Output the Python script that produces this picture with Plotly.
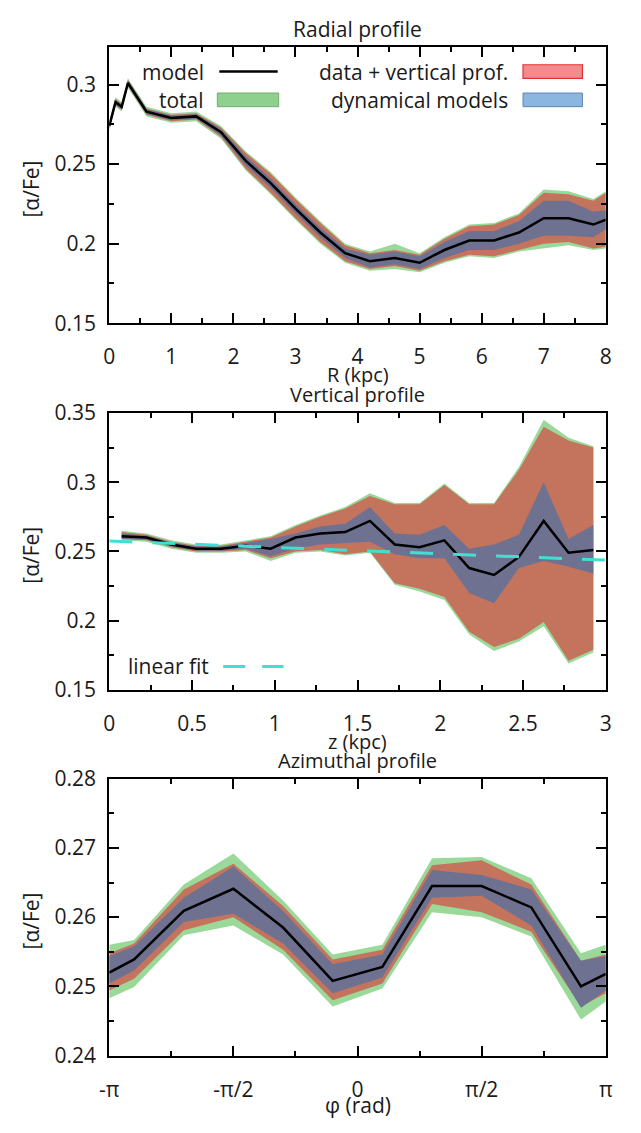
import numpy as np
import plotly.graph_objects as go

W, H = 641, 1133

# ---------------- Radial profile ----------------
R_kpc = [0.0, 0.1, 0.2, 0.3, 0.6, 1.0, 1.4, 1.8, 2.2, 2.6, 3.0, 3.4, 3.8, 4.2,
         4.6, 5.0, 5.4, 5.8, 6.2, 6.6, 7.0, 7.4, 7.8, 8.0]
rad_model = [0.274, 0.289, 0.286, 0.301, 0.283, 0.279, 0.280, 0.270, 0.252, 0.238,
             0.222, 0.207, 0.194, 0.189, 0.191, 0.188, 0.196, 0.202, 0.202, 0.207,
             0.216, 0.216, 0.212, 0.215]
rad_tot_hi = [0.277, 0.292, 0.289, 0.304, 0.286, 0.282, 0.283, 0.274, 0.258, 0.245,
              0.229, 0.214, 0.200, 0.195, 0.200, 0.194, 0.204, 0.212, 0.213, 0.219,
              0.234, 0.233, 0.228, 0.233]
rad_tot_lo = [0.271, 0.286, 0.283, 0.298, 0.280, 0.276, 0.277, 0.266, 0.246, 0.231,
              0.215, 0.200, 0.188, 0.183, 0.184, 0.182, 0.188, 0.192, 0.191, 0.195,
              0.197, 0.199, 0.196, 0.197]
rad_data_hi = [0.276, 0.291, 0.288, 0.303, 0.285, 0.281, 0.282, 0.273, 0.257, 0.244,
               0.228, 0.213, 0.199, 0.194, 0.196, 0.193, 0.203, 0.211, 0.212, 0.218,
               0.232, 0.231, 0.227, 0.232]
rad_data_lo = [0.272, 0.287, 0.284, 0.299, 0.281, 0.277, 0.278, 0.267, 0.247, 0.232,
               0.216, 0.201, 0.189, 0.184, 0.186, 0.183, 0.189, 0.193, 0.192, 0.196,
               0.200, 0.201, 0.197, 0.198]
rad_dyn_hi = [0.2755, 0.2905, 0.2875, 0.3025, 0.2845, 0.2805, 0.2815, 0.272, 0.255, 0.241,
              0.225, 0.210, 0.197, 0.193, 0.195, 0.192, 0.201, 0.208, 0.208, 0.214,
              0.227, 0.227, 0.220, 0.221]
rad_dyn_lo = [0.2725, 0.2875, 0.2845, 0.2995, 0.2815, 0.2775, 0.2785, 0.268, 0.249, 0.235,
              0.219, 0.204, 0.191, 0.185, 0.187, 0.184, 0.191, 0.196, 0.196, 0.200,
              0.205, 0.205, 0.204, 0.209]

# ---------------- Vertical profile ----------------
z_kpc = [0.075, 0.225, 0.375, 0.525, 0.675, 0.825, 0.975, 1.125, 1.275, 1.425,
         1.575, 1.725, 1.875, 2.025, 2.175, 2.325, 2.475, 2.625, 2.775, 2.925]
ver_model = [0.261, 0.260, 0.255, 0.252, 0.252, 0.254, 0.252, 0.260, 0.263, 0.264,
             0.272, 0.255, 0.253, 0.258, 0.238, 0.233, 0.246, 0.272, 0.249, 0.251]
ver_tot_hi = [0.265, 0.263, 0.258, 0.255, 0.255, 0.258, 0.261, 0.269, 0.276, 0.282,
              0.292, 0.285, 0.285, 0.299, 0.285, 0.285, 0.311, 0.345, 0.332, 0.326]
ver_tot_lo = [0.258, 0.257, 0.252, 0.249, 0.249, 0.250, 0.243, 0.249, 0.250, 0.247,
              0.249, 0.226, 0.221, 0.215, 0.190, 0.178, 0.185, 0.196, 0.169, 0.177]
ver_data_hi = [0.264, 0.262, 0.257, 0.254, 0.254, 0.257, 0.260, 0.268, 0.275, 0.281,
               0.290, 0.284, 0.284, 0.298, 0.284, 0.284, 0.309, 0.340, 0.330, 0.325]
ver_data_lo = [0.259, 0.258, 0.253, 0.250, 0.250, 0.251, 0.245, 0.250, 0.251, 0.248,
               0.250, 0.227, 0.223, 0.217, 0.192, 0.181, 0.187, 0.199, 0.171, 0.179]
ver_dyn_hi = [0.263, 0.2615, 0.2565, 0.2535, 0.2535, 0.256, 0.259, 0.263, 0.268, 0.270,
              0.282, 0.263, 0.262, 0.269, 0.252, 0.255, 0.262, 0.300, 0.259, 0.269]
ver_dyn_lo = [0.259, 0.2585, 0.2535, 0.2505, 0.2505, 0.252, 0.2465, 0.252, 0.255, 0.256,
              0.257, 0.248, 0.245, 0.245, 0.220, 0.2125, 0.238, 0.243, 0.239, 0.234]
fit_z = [0.0, 3.0]
fit_val = [0.2575, 0.2437]

# ---------------- Azimuthal profile ----------------
phi_over_pi = [-1.0, -0.9, -0.7, -0.5, -0.3, -0.1, 0.1, 0.3, 0.5, 0.7, 0.9, 1.0]
azi_model = [0.2520, 0.2539, 0.2609, 0.2641, 0.2585, 0.2508, 0.2528, 0.2645, 0.2645,
             0.2614, 0.2500, 0.2518]
azi_tot_hi = [0.2560, 0.2567, 0.2647, 0.2692, 0.2624, 0.2546, 0.2560, 0.2685, 0.2687,
              0.2656, 0.2548, 0.2560]
azi_tot_lo = [0.2483, 0.2499, 0.2574, 0.2588, 0.2546, 0.2471, 0.2497, 0.2607, 0.2600,
              0.2572, 0.2452, 0.2478]
azi_data_hi = [0.2548, 0.2562, 0.2640, 0.2677, 0.2616, 0.2539, 0.2553, 0.2675, 0.2682,
               0.2647, 0.2537, 0.2546]
azi_data_lo = [0.2494, 0.2511, 0.2581, 0.2600, 0.2553, 0.2480, 0.2504, 0.2619, 0.2607,
               0.2579, 0.2471, 0.2490]
azi_dyn_hi = [0.2544, 0.2558, 0.2628, 0.2673, 0.2609, 0.2532, 0.2546, 0.2668, 0.2661,
              0.2640, 0.2537, 0.2544]
azi_dyn_lo = [0.2504, 0.2523, 0.2593, 0.2605, 0.2562, 0.2490, 0.2513, 0.2628, 0.2631,
              0.2588, 0.2469, 0.2494]
phi_rad = [p * np.pi for p in phi_over_pi]
phi_ticks = [-np.pi, -np.pi / 2, 0.0, np.pi / 2, np.pi]
phi_ticktext = ["-π", "-π/2", "0", "π/2", "π"]

# colours of the bands as they appear stacked on the plot
C_TOT = "#9ad99a"
C_DATA = "#c4745c"
C_DYN = "#6f7191"
C_FIT = "#40e0d0"
TXT = "#1a1a1a"
FONT = "Open Sans"


def px_x(p):
    # page pixel -> paper fraction
    return p / W


def px_y(p):
    return 1 - p / H


fig = go.Figure()


def band(xs, hi, lo, color, ax):
    fig.add_trace(go.Scatter(
        x=list(xs) + list(xs)[::-1], y=list(hi) + list(lo)[::-1],
        fill="toself", fillcolor=color, mode="lines", line=dict(width=0),
        xaxis="x" + ax, yaxis="y" + ax, hoverinfo="skip", showlegend=False))


def model_line(xs, ys, ax):
    fig.add_trace(go.Scatter(
        x=xs, y=ys, mode="lines", line=dict(color="black", width=2.5),
        xaxis="x" + ax, yaxis="y" + ax, hoverinfo="skip", showlegend=False))


for ax, xs, m, th, tl, dh, dl, yh, yl in [
    ("", R_kpc, rad_model, rad_tot_hi, rad_tot_lo, rad_data_hi, rad_data_lo, rad_dyn_hi, rad_dyn_lo),
    ("2", z_kpc, ver_model, ver_tot_hi, ver_tot_lo, ver_data_hi, ver_data_lo, ver_dyn_hi, ver_dyn_lo),
    ("3", phi_rad, azi_model, azi_tot_hi, azi_tot_lo, azi_data_hi, azi_data_lo, azi_dyn_hi, azi_dyn_lo),
]:
    band(xs, th, tl, C_TOT, ax)
    band(xs, dh, dl, C_DATA, ax)
    band(xs, yh, yl, C_DYN, ax)
    model_line(xs, m, ax)

fig.add_trace(go.Scatter(
    x=fit_z, y=fit_val, mode="lines", line=dict(color=C_FIT, width=3, dash="23px,20px"),
    xaxis="x2", yaxis="y2", hoverinfo="skip", showlegend=False))

# panel geometry in page pixels: (top, bottom)
x_dom = [px_x(102), px_x(612)]
panels = [(33, 316), (408, 692), (783, 1067)]

tickfont = dict(family=FONT, size=21, color=TXT)


def axis_common():
    return dict(
        showline=True, linecolor="black", linewidth=2, mirror="allticks",
        ticks="inside", ticklen=10, tickwidth=1.5, tickcolor="black",
        showgrid=False, zeroline=False, tickfont=tickfont,
    )


def yaxis(top, bot, rng, dtick, tick0, minor_dtick, anchor):
    d = axis_common()
    d.update(domain=[px_y(bot), px_y(top)], range=rng, dtick=dtick, tick0=tick0,
             anchor=anchor, ticklabelstandoff=7,
             minor=dict(dtick=minor_dtick, tick0=tick0, ticks="inside", ticklen=5,
                        tickwidth=1.5, tickcolor="black", showgrid=False))
    return d


def xaxis(rng, anchor, **kw):
    d = axis_common()
    d.update(domain=x_dom, range=rng, anchor=anchor, ticklabelstandoff=14)
    d.update(kw)
    return d


def minor_x(step, start):
    return dict(dtick=step, tick0=start, ticks="inside", ticklen=5, tickwidth=1.5,
                tickcolor="black", showgrid=False)


layout = dict(
    width=W, height=H, margin=dict(l=0, r=0, t=0, b=0),
    paper_bgcolor="white", plot_bgcolor="white", showlegend=False,
    font=dict(family=FONT, size=21, color=TXT),
    xaxis=xaxis([0, 8], "y", dtick=1, tick0=0, minor=minor_x(0.5, 0)),
    yaxis=yaxis(*panels[0], [0.15, 0.3235], 0.05, 0.15, 0.025, "x"),
    xaxis2=xaxis([0, 3], "y2", dtick=0.5, tick0=0, minor=minor_x(0.25, 0)),
    yaxis2=yaxis(*panels[1], [0.15, 0.35], 0.05, 0.15, 0.025, "x2"),
    xaxis3=xaxis([-np.pi, np.pi], "y3", tickmode="array", tickvals=phi_ticks,
                 ticktext=phi_ticktext, minor=minor_x(np.pi / 4, -np.pi)),
    yaxis3=yaxis(*panels[2], [0.24, 0.28], 0.01, 0.24, 0.005, "x3"),
)
fig.update_layout(**layout)

ann = []


def text(s, x, y, xanchor="center", angle=0, size=21):
    ann.append(dict(text=s, x=px_x(x), y=px_y(y), xref="paper", yref="paper",
                    xanchor=xanchor, yanchor="middle", showarrow=False, textangle=angle,
                    font=dict(family=FONT, size=size, color=TXT)))


cx = (102 + 612) / 2
# titles and axis labels
text("Radial profile", cx, 14)
text("R (kpc)", cx, 369, size=20)
text("Vertical profile", cx, 389, size=20)
text("z (kpc)", cx, 745, size=20)
text("Azimuthal profile", cx, 764, size=20)
text("φ (rad)", cx, 1118)
for top, bot in panels:
    text("[α/Fe]", 22, (top + bot) / 2 + 4, angle=-90)

# key inside the radial panel
text("model", 201, 58, xanchor="right")
text("total", 201, 87, xanchor="right")
text("data + vertical prof.", 514, 58, xanchor="right")
text("dynamical models", 514, 87, xanchor="right")
# key for the fit line in the vertical panel
text("linear fit", 206, 668, xanchor="right")
fig.update_layout(annotations=ann)


def seg(x0, x1, y, color, width, dash="solid"):
    return dict(type="line", x0=px_x(x0), x1=px_x(x1), y0=px_y(y), y1=px_y(y),
                xref="paper", yref="paper", line=dict(color=color, width=width, dash=dash))


def swatch(x0, x1, y0, y1, fill, edge, width=1):
    return dict(type="rect", x0=px_x(x0), x1=px_x(x1), y0=px_y(y0), y1=px_y(y1),
                xref="paper", yref="paper", fillcolor=fill, line=dict(color=edge, width=width))


shapes = [
    seg(215, 275, 58, "black", 2.5),
    swatch(213, 276, 80, 94, "#8fd08f", "#6cae6c"),
    swatch(527, 588, 51, 65, "#f28b8b", "#e53030", 1.2),
    swatch(527, 588, 80, 94, "#8cb6df", "#5b87b5"),
    seg(219, 281, 668, C_FIT, 3, "22px,17px"),
]
fig.update_layout(shapes=shapes)

fig.write_html("out.html")
